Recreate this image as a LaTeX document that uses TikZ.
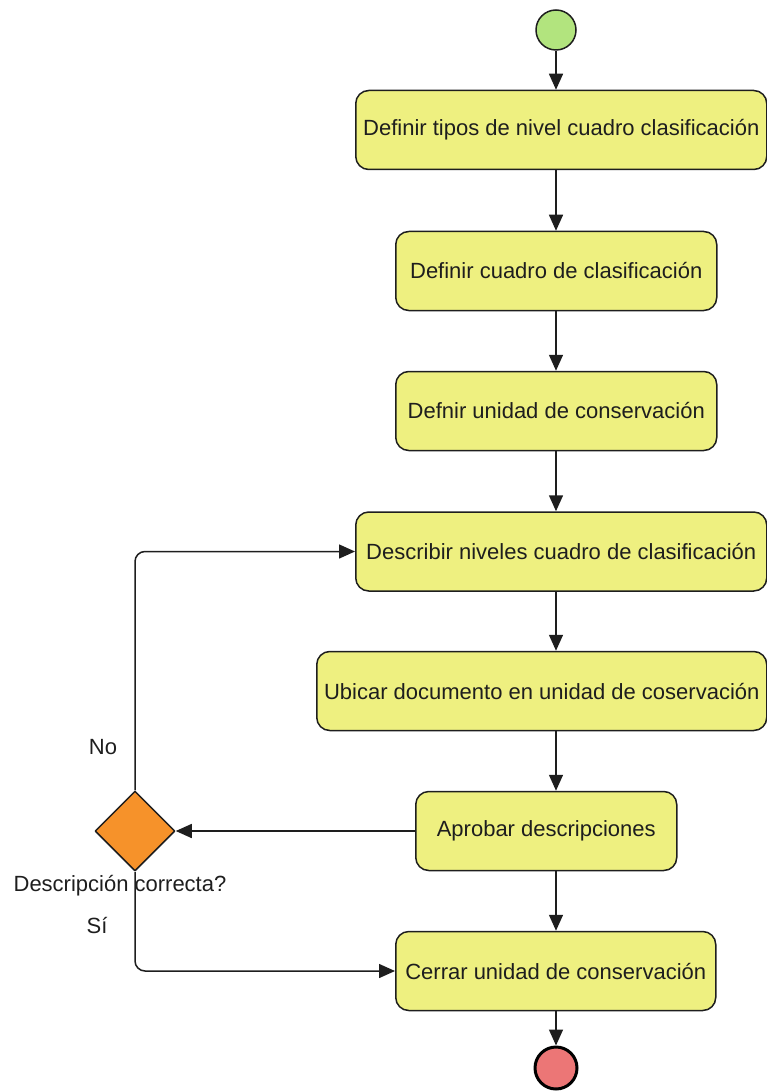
\documentclass[tikz,border=0pt]{standalone}
\usepackage{fontspec}
\setmainfont{Liberation Sans}
\usetikzlibrary{arrows.meta,shapes.geometric}
\definecolor{actfill}{RGB}{238,240,128}
\definecolor{inifill}{RGB}{178,228,126}
\definecolor{finfill}{RGB}{236,118,118}
\definecolor{decfill}{RGB}{246,146,42}
\definecolor{linea}{RGB}{30,30,30}
\begin{document}
\begin{tikzpicture}[x=1pt, y=-1pt, >={Triangle[length=16pt,width=14pt]}, line join=round, font=\fontsize{22}{26}\selectfont,
	act/.style={draw=linea, line width=1.5pt, fill=actfill, rounded corners=13pt, minimum height=79pt, anchor=west, inner sep=0pt, text=linea},
	ini/.style={circle, draw=linea, line width=1.5pt, fill=inifill, minimum size=40pt, inner sep=0pt},
	fin/.style={circle, draw=black, line width=3pt, fill=finfill, minimum size=42pt, inner sep=0pt},
	dec/.style={diamond, draw=linea, line width=1.5pt, fill=decfill, minimum width=80pt, minimum height=80pt, inner sep=0pt},
	flow/.style={->, draw=linea, line width=1.5pt},
	lbl/.style={text=linea, inner sep=0pt}]
				\useasboundingbox (0,0) rectangle (767,1091);
				\node [ini] (inicio) at (556,30) {};
				\node [act, minimum width=411pt] (tipos) at (355,130) {Definir tipos de nivel cuadro clasificación};
				\node [act, minimum width=321pt] (cuadro) at (395,271) {Definir cuadro de clasificación};
				\node [act, minimum width=321pt] (unidad) at (395,411) {Defnir unidad de conservación};
				\node [act, minimum width=411pt] (describir) at (355,551.5) {Describir niveles cuadro de clasificación};
				\node [act, minimum width=450pt] (ubicar) at (316,691) {Ubicar documento en unidad de coservación};
				\node [act, minimum width=261pt] (aprobar) at (415,831) {Aprobar descripciones};
				\node [act, minimum width=320pt] (cerrar) at (395,971) {Cerrar unidad de conservación};
				\node [fin] (final) at (556,1068) {};
				\node [dec] (correcta) at (135,831) {};
				\draw [flow] (inicio) -- (inicio |- tipos.north);
				\draw [flow] (tipos.south -| inicio) -- (cuadro.north -| inicio);
				\draw [flow] (cuadro.south -| inicio) -- (unidad.north -| inicio);
				\draw [flow] (unidad.south -| inicio) -- (describir.north -| inicio);
				\draw [flow] (describir.south -| inicio) -- (ubicar.north -| inicio);
				\draw [flow] (ubicar.south -| inicio) -- (aprobar.north -| inicio);
				\draw [flow] (aprobar.south -| inicio) -- (cerrar.north -| inicio);
				\draw [flow] (cerrar.south -| inicio) -- (final);
				\draw [flow] (aprobar.west) -- (correcta.east);
				\draw [flow, rounded corners=10pt] (correcta.north) |- (describir.west);
				\draw [flow, rounded corners=10pt] (correcta.south) |- (cerrar.west);
				\node [lbl] (no) at (103,747) {No};
				\node [lbl] (pregunta) at (120,886) {Descripción correcta?};
				\node [lbl] (si) at (97,925) {Sí};
			\end{tikzpicture}
\end{document}
